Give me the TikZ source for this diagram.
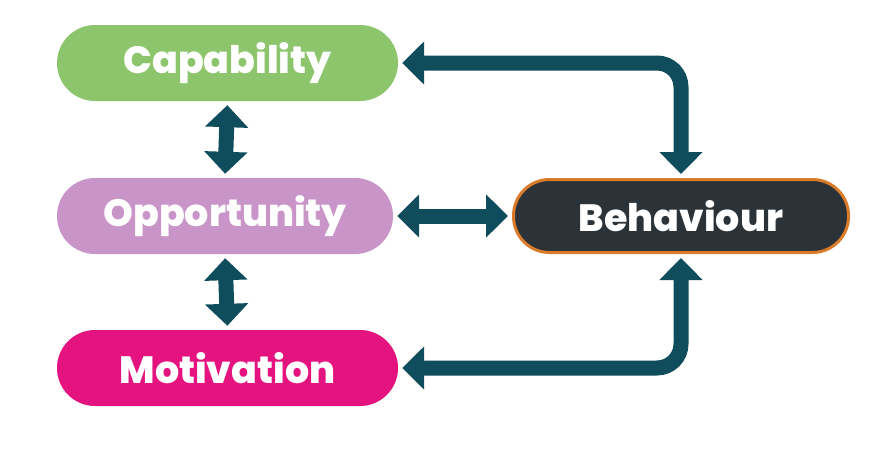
\documentclass[tikz,border=0pt]{standalone}
\usepackage{fontspec}
\setmainfont{Poppins}[BoldFont={Poppins ExtraBold}]
\usetikzlibrary{arrows.meta}
\definecolor{capc}{HTML}{8DC56C}
\definecolor{oppc}{HTML}{C994C7}
\definecolor{motc}{HTML}{E5137F}
\definecolor{behc}{HTML}{2C3338}
\definecolor{behb}{HTML}{D97B29}
\definecolor{arrc}{HTML}{0F4C5C}
\tikzset{
  pill/.style={minimum height=76pt, rounded corners=38pt, inner sep=0pt,
    text=white, font=\fontsize{38}{40}\selectfont\bfseries},
  arr/.style={draw=arrc, line width=15pt,
    {Triangle[width=42pt,length=22pt]}-{Triangle[width=42pt,length=22pt]},
    shorten <=4pt, shorten >=4pt}
}
\begin{document}
\begin{tikzpicture}[x=1pt,y=-1pt]
\useasboundingbox[fill=white] (0,0) rectangle (889,455);
\node[pill, fill=capc, minimum width=341pt] (cap) at (227.5,63) {Capability};
\node[pill, fill=oppc, minimum width=336pt] (opp) at (225,216) {Opportunity};
\node[pill, fill=motc, minimum width=341pt] (mot) at (227.5,368) {Motivation};
\node[pill, fill=behc, draw=behb, line width=3pt, minimum width=335pt, minimum height=73pt, rounded corners=36pt] (beh) at (681,216) {Behaviour};
\draw[arr] (cap.south) -- (opp.north);
\draw[arr] (opp.south) -- (mot.north);
\draw[arr] (opp.east) -- (beh.west);
\draw[arr, rounded corners=24pt] (cap.east) -| (beh.north);
\draw[arr, rounded corners=24pt] (mot.east) -| (beh.south);
\end{tikzpicture}
\end{document}
